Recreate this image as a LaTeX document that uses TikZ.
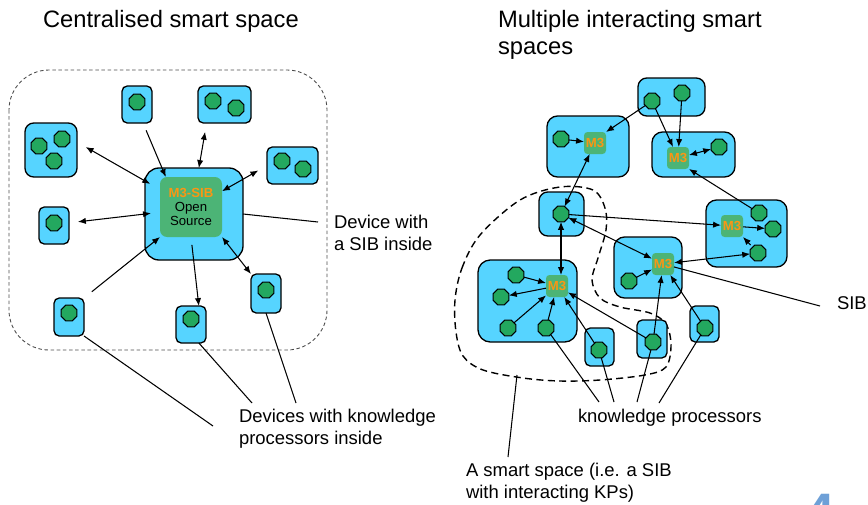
\documentclass[tikz,border=0pt]{standalone}
\usepackage{fontspec}
\setmainfont{Liberation Sans}
\usetikzlibrary{shapes.geometric,arrows.meta}
\definecolor{devblue}{RGB}{86,212,255}
\definecolor{kpgreen}{RGB}{35,168,95}
\definecolor{m3green}{RGB}{76,180,118}
\definecolor{m3orange}{RGB}{250,150,20}
\definecolor{pageblue}{RGB}{110,160,215}
\begin{document}
\begin{tikzpicture}[x=0.02cm, y=-0.02cm, >={Latex[length=4.5pt,width=3.6pt]},
  every node/.style={inner sep=0pt, outer sep=0pt},
  box/.style 2 args={draw, fill=devblue, line width=0.75pt, rounded corners=3pt,
    minimum width=#1*0.02cm, minimum height=#2*0.02cm},
  kp/.style={draw, fill=kpgreen, regular polygon, regular polygon sides=8,
    minimum size=0.34cm, line width=0.6pt},
  m3/.style={fill=m3green, rounded corners=2pt, minimum size=0.44cm,
    text=m3orange, font=\fontsize{7.5}{8}\selectfont\bfseries},
  link/.style={->, line width=0.6pt},
  both/.style={<->, line width=0.6pt},
  lead/.style={line width=0.6pt},
  note/.style={align=left, anchor=west, font=\fontsize{10.5}{12.5}\selectfont},
  heading/.style={align=left, anchor=west, font=\fontsize{13.5}{15}\selectfont}]
  \clip (0,0) rectangle (868,504);

  \node[heading] (ttl1) at (43,21) {Centralised smart space};
  \node[heading] (ttl2) at (498,35) {Multiple interacting smart\\spaces};

  \draw[gray!60!black, dash pattern=on 2pt off 1.5pt, line width=0.5pt, rounded corners=0.8cm]
    (9,70) rectangle (327,350);

  \node[box={98}{92}, rounded corners=8pt] (sib) at (194,214) {};
  \node[fill=m3green, rounded corners=4pt, minimum width=62*0.02cm, minimum height=60*0.02cm,
    align=center, font=\fontsize{7.5}{8.2}\selectfont] (core) at (191,207)
    {\textcolor{m3orange}{\bfseries M3-SIB}\\Open\\Source};

  \node[box={30}{37}] (dev1) at (137,104.5) {};
  \node[kp] (k1) at (137,102) {};
  \node[box={53}{37}] (dev2) at (224.5,104.5) {};
  \node[kp] (k2a) at (213,101) {};
  \node[kp] (k2b) at (236,108) {};
  \node[box={52}{54}, rounded corners=5pt] (dev3) at (51,150) {};
  \node[kp] (k3a) at (39,146) {};
  \node[kp] (k3b) at (62,139) {};
  \node[kp] (k3c) at (54,161) {};
  \node[box={51}{37}] (dev4) at (292.5,165.5) {};
  \node[kp] (k4a) at (282,161) {};
  \node[kp] (k4b) at (303,169) {};
  \node[box={30}{37}] (dev5) at (54,225.5) {};
  \node[kp] (k5) at (54,223) {};
  \node[box={30}{38}] (dev6) at (69,317) {};
  \node[kp] (k6) at (69,313) {};
  \node[box={30}{37}] (dev7) at (191,324.5) {};
  \node[kp] (k7) at (191,319) {};
  \node[box={30}{39}] (dev8) at (266,293.5) {};
  \node[kp] (k8) at (266,290) {};

  \draw[link, shorten <=0.16cm] (dev1.-72) -- (core.130);
  \draw[both, shorten <=0.18cm] (dev2.-134) -- (sib.84);
  \draw[both, shorten <=0.2cm, shorten >=-0.12cm] (dev3.17) -- (sib.146);
  \draw[both, shorten <=0.2cm] (dev4.west) -- (core.27);
  \draw[both, shorten <=0.18cm, shorten >=-0.12cm] (dev5.10) -- (sib.west);
  \draw[link, shorten <=0.2cm] (dev6.north east) -- (core.south west);
  \draw[link, shorten <=0.16cm] (core.south) -- (dev7.67);
  \draw[both] (core.south east) -- (dev8.north west);

  \coordinate (sibend) at (318,222);
  \draw[lead] (sib.east) -- (sibend);
  \node[note] (sibtxt) at (334,233) {Device with\\a SIB inside};

  \coordinate (ld1) at (213,426);
  \coordinate (ld2) at (252,403);
  \coordinate (ld3) at (296,403);
  \draw[lead] (dev6.south east) -- (ld1);
  \draw[lead] (dev7.-67) -- (ld2);
  \draw[lead] (dev8.south) -- (ld3);
  \node[note] (devtxt) at (239,429) {Devices with knowledge\\processors inside};

  \draw[dashed, dash pattern=on 4pt off 2.5pt, line width=0.8pt]
    plot[smooth cycle, tension=0.55] coordinates {(455,300) (462,268) (480,235) (520,200)
    (560,187) (593,190) (605,208) (606,230) (598,258) (592,280) (600,298) (620,307)
    (650,313) (666,324) (671,345) (666,367) (645,375) (600,380) (560,381) (523,378)
    (483,370) (463,356) (456,332)};

  \node[box={67}{38}, rounded corners=5pt] (sT) at (671.5,97) {};
  \node[kp] (tK1) at (652,101) {};
  \node[kp] (tK2) at (682,93) {};
  \node[box={82}{61}, rounded corners=6pt] (sA) at (588,146.5) {};
  \node[kp] (aK) at (561,139) {};
  \node[m3] (mA) at (595,143) {M3};
  \node[box={83}{45}, rounded corners=6pt] (sB) at (693.5,154.5) {};
  \node[m3] (mB) at (678,158) {M3};
  \node[kp] (bK) at (719,147) {};
  \node[box={45}{44}, rounded corners=5pt] (sC) at (561.5,214) {};
  \node[kp] (cK) at (561,214) {};
  \node[box={81}{67}, rounded corners=6pt] (sD) at (746.5,233.5) {};
  \node[m3] (mD) at (732,226) {M3};
  \node[kp] (dK1) at (759,213) {};
  \node[kp] (dK2) at (773,229) {};
  \node[kp] (dK3) at (758,253) {};
  \node[box={68}{61}, rounded corners=6pt] (sE) at (648,267.5) {};
  \node[m3] (mE) at (663,264) {M3};
  \node[kp] (eK) at (629,281) {};
  \node[box={99}{82}, rounded corners=7pt] (sF) at (527.5,301) {};
  \node[m3] (mF) at (557,286) {M3};
  \node[kp] (fK1) at (516,275) {};
  \node[kp] (fK2) at (501,297) {};
  \node[kp] (fK3) at (508,328) {};
  \node[kp] (fK4) at (546,328) {};
  \node[box={29}{38}] (sG) at (599.5,347) {};
  \node[kp] (gK) at (599,350) {};
  \node[box={30}{38}] (sH) at (652,339) {};
  \node[kp] (hK) at (653,342) {};
  \node[box={29}{36}] (sI) at (704.5,324) {};
  \node[kp] (iK) at (705,328) {};

  \draw[link] (tK1) -- (mA.north east);
  \draw[link] (tK1) -- (mB);
  \draw[link] (tK2) -- (mB);
  \draw[link] (aK) -- (mA);
  \draw[both] (mB) -- (bK);
  \draw[link] (dK1) -- (mB.south east);
  \draw[both] (mA) -- (cK);
  \draw[link] (cK) -- (mD);
  \draw[link] (mD) -- (dK2);
  \draw[link, shorten <=0.06cm] (dK3) -- (mD.south east);
  \draw[both] (cK) -- (mE);
  \draw[both] (mE) -- (dK3);
  \draw[both] (cK) -- (cK |- mF.north);
  \draw[link] (eK) -- (mE);
  \draw[link] (fK1) -- (mF);
  \draw[link] (mF) -- (fK2);
  \draw[link] (fK3) -- (mF);
  \draw[link] (fK4) -- (mF);
  \draw[link] (gK) -- (mF);
  \draw[link] (hK) -- (mF);
  \draw[link] (hK) -- (mE);
  \draw[link] (iK) -- (mE);

  \coordinate (sibpt) at (820,306);
  \draw[lead] (mE.-15) -- (sibpt);
  \node[note] (sibtxt2) at (837,303) {SIB};

  \coordinate (lk1) at (599,402);
  \coordinate (lk2) at (614,402);
  \coordinate (lk3) at (637,402);
  \coordinate (lk4) at (659,403);
  \draw[lead] (fK4) -- (lk1);
  \draw[lead] (gK) -- (lk2);
  \draw[lead] (hK) -- (lk3);
  \draw[lead] (iK) -- (lk4);
  \node[note] (kptxt) at (578,418) {knowledge processors};

  \coordinate (ss1) at (517,375);
  \coordinate (ss2) at (508,457);
  \draw[lead] (ss1) -- (ss2);
  \node[note] (sstxt) at (466,482.5) {A smart space (i.e. a SIB\\with interacting KPs)};

  \node[anchor=north, text=pageblue, font=\fontsize{30}{30}\selectfont\bfseries] (pgnum) at (820,494) {4};
\end{tikzpicture}
\end{document}
